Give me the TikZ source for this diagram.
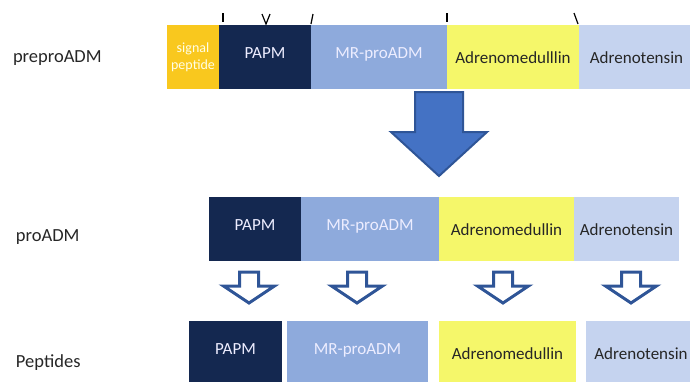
\documentclass[tikz,border=0pt]{standalone}
\usepackage{fontspec}
\setmainfont{Carlito}
\usetikzlibrary{positioning}
\definecolor{signalcol}{HTML}{F9C81E}
\definecolor{papmcol}{HTML}{142850}
\definecolor{mrcol}{HTML}{8EAADC}
\definecolor{admcol}{HTML}{F5F76A}
\definecolor{adtcol}{HTML}{C5D3EF}
\definecolor{arrowline}{HTML}{2F5597}
\definecolor{arrowfill}{HTML}{4472C4}
\tikzset{
	node distance=0pt,
	every node/.style = {inner sep=0pt, outer sep=0pt},
	segment/.style = {minimum height=64pt, font=\fontsize{17}{20}\selectfont},
	lightseg/.style = {segment, text=white!93!blue, text height=8pt, text depth=6pt},
	darkseg/.style = {segment, text=black!85, text height=12pt, text depth=0pt},
	rowname/.style = {anchor=base west, text=black!85, font=\fontsize{18.5}{22}\selectfont},
	cut/.style = {black, line width=1.2pt},
	smallarrow/.style = {draw=arrowline, line width=3pt, fill=white, line join=miter}
}

\begin{document}
\begin{tikzpicture}[x=1pt, y=-1pt]
	\useasboundingbox (0,0) rectangle (690,381);
	\node[rowname] (l-prepro) at (13,62) {preproADM};
	\node[rowname] (l-pro) at (16,241) {proADM};
	\node[rowname] (l-pep) at (16,367) {Peptides};
	\node[segment, fill=signalcol, text=white!90!yellow, minimum width=52pt, anchor=north west, align=center, font=\fontsize{14}{17}\selectfont] (pp-sig) at (167,25) {signal\\peptide};
	\node[lightseg, fill=papmcol, minimum width=92pt, right=of pp-sig] (pp-papm) {PAPM};
	\node[lightseg, fill=mrcol, minimum width=136pt, right=of pp-papm] (pp-mr) {MR-proADM};
	\node[darkseg, fill=admcol, minimum width=132pt, right=of pp-mr] (pp-adm) {Adrenomedulllin};
	\node[darkseg, fill=adtcol, minimum width=115pt, right=of pp-adm] (pp-adt) {Adrenotensin};
	\draw[cut] (223,13) -- (223,22);
	\draw[cut] (262,14) -- (266,24) -- (270,14);
	\draw[cut] (313,14) -- (311,24);
	\draw[cut] (447,13) -- (447,22);
	\draw[cut] (574,13) -- (578,24);
	\draw[draw=arrowline, fill=arrowfill, line width=2pt, line join=miter] (415,92) -- (463,92) -- (463,132) -- (487,132) -- (439,176) -- (391,132) -- (415,132) -- cycle;
	\node[lightseg, fill=papmcol, minimum width=92pt, anchor=north west] (p-papm) at (209,197) {PAPM};
	\node[lightseg, fill=mrcol, minimum width=138pt, right=of p-papm] (p-mr) {MR-proADM};
	\node[darkseg, fill=admcol, minimum width=135pt, right=of p-mr] (p-adm) {Adrenomedullin};
	\node[darkseg, fill=adtcol, minimum width=105pt, right=of p-adm] (p-adt) {Adrenotensin};
	\foreach \cx in {249,357,503,631}
		\draw[smallarrow] (\cx-9.5,272) -- (\cx+9.5,272) -- (\cx+9.5,286) -- (\cx+25.5,286) -- (\cx,303) -- (\cx-25.5,286) -- (\cx-9.5,286) -- cycle;
	\node[lightseg, fill=papmcol, minimum width=93pt, anchor=north west] (pe-papm) at (189,321) {PAPM};
	\node[lightseg, fill=mrcol, minimum width=141pt, right=5pt of pe-papm] (pe-mr) {MR-proADM};
	\node[darkseg, fill=admcol, minimum width=137pt, right=11pt of pe-mr] (pe-adm) {Adrenomedullin};
	\node[darkseg, fill=adtcol, minimum width=110pt, right=10pt of pe-adm] (pe-adt) {Adrenotensin};
\end{tikzpicture}
\end{document}
